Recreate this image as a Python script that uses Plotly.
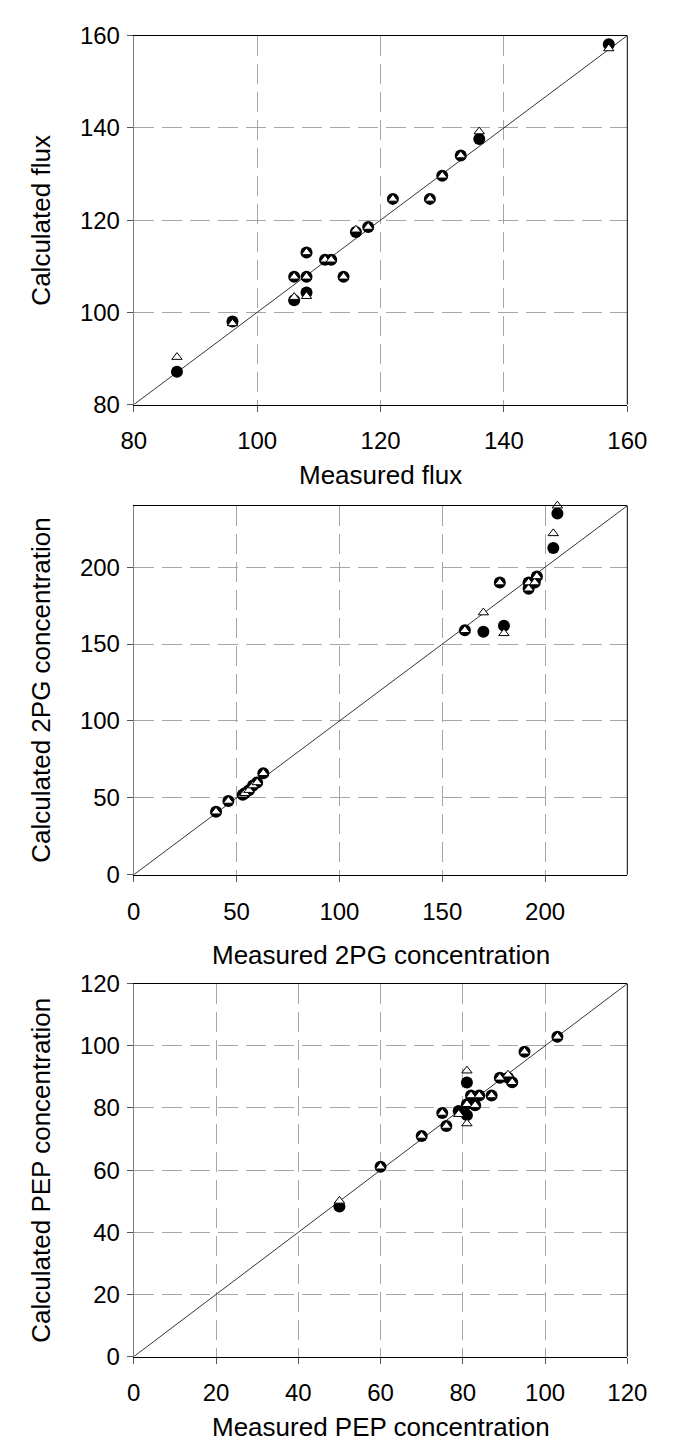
import plotly.graph_objects as go

# ---- data -------------------------------------------------------------
flux_measured = [87, 96, 106, 106, 108, 108, 108, 111, 112, 114, 116, 118, 122, 128, 130, 133, 136, 157]
flux_calc_a = [87.1, 98.0, 102.6, 107.7, 113.0, 107.7, 104.3, 111.4, 111.4, 107.7, 117.4, 118.5, 124.6, 124.6, 129.6, 134.0, 137.6, 158.1]
flux_calc_b = [90.3, 97.6, 103.3, 107.7, 113.0, 107.7, 103.5, 111.4, 111.4, 107.7, 117.9, 118.5, 124.6, 124.6, 129.6, 134.0, 139.2, 157.2]

pg2_measured = [40, 46, 53, 54, 56, 58, 60, 63, 161, 170, 178, 180, 192, 192, 195, 196, 204, 206]
pg2_calc_a = [41, 48, 52, 53, 55, 58, 60, 66, 159, 158, 190, 162, 186, 190, 190, 194, 212.5, 235]
pg2_calc_b = [41, 48, 52, 53, 55, 58, 60, 66, 159, 170.5, 190, 157, 186, 190, 190, 194, 222, 240]

pep_measured = [50, 60, 70, 75, 76, 79, 81, 81, 81, 82, 83, 84, 87, 89, 91, 92, 95, 103]
pep_calc_a = [48.3, 61.1, 71.0, 78.4, 74.2, 79.0, 88.2, 77.7, 81.2, 84.0, 80.9, 84.0, 84.0, 89.7, 89.7, 88.3, 98.1, 102.9]
pep_calc_b = [50.1, 61.1, 71.0, 78.4, 74.2, 78.0, 92.0, 75.0, 81.2, 84.0, 80.9, 84.0, 84.0, 89.7, 90.7, 88.3, 98.1, 102.9]

flux_range = [80, 160]
pg2_range = [0, 240]
pep_range = [0, 120]
flux_ticks = [80, 100, 120, 140, 160]
pg2_ticks = [0, 50, 100, 150, 200]
pep_ticks = [0, 20, 40, 60, 80, 100, 120]

x_titles = ["Measured flux", "Measured 2PG concentration", "Measured PEP concentration"]
y_titles = ["Calculated flux", "Calculated 2PG concentration", "Calculated PEP concentration"]

# ---- layout geometry (pixels) ----------------------------------------
W, H = 673, 1455
LEFT, RIGHT = 127, 646
PANEL_TOP = [22, 501, 988]
PANEL_BOTTOM = [398, 877, 1368]
XLABEL_Y = [470, 959, 1440]
YLABEL_X = 30

FONT = "Liberation Sans, Arial, sans-serif"
FS_TITLE = 26
FS_TICK = 24

def px_x(p):
    return p / W

def px_y(p):
    return 1 - p / H

panels = [
    (flux_measured, flux_calc_a, flux_calc_b, flux_range, flux_ticks),
    (pg2_measured, pg2_calc_a, pg2_calc_b, pg2_range, pg2_ticks),
    (pep_measured, pep_calc_a, pep_calc_b, pep_range, pep_ticks),
]

fig = go.Figure()
layout = dict(
    width=W, height=H,
    margin=dict(l=0, r=0, t=0, b=0),
    paper_bgcolor="white", plot_bgcolor="white",
    showlegend=False,
    font=dict(family=FONT, size=FS_TICK, color="black"),
    annotations=[], shapes=[],
)

for i, (meas, ca, cb, rng, ticks) in enumerate(panels):
    n = "" if i == 0 else str(i + 1)
    xa, ya = "x" + n, "y" + n
    # identity line
    fig.add_trace(go.Scatter(x=rng, y=rng, mode="lines", xaxis=xa, yaxis=ya,
                             line=dict(color="black", width=0.8), hoverinfo="skip"))
    fig.add_trace(go.Scatter(x=meas, y=ca, mode="markers", xaxis=xa, yaxis=ya, cliponaxis=False,
                             marker=dict(symbol="circle", size=12, color="black",
                                         line=dict(width=0))))
    fig.add_trace(go.Scatter(x=meas, y=cb, mode="markers", xaxis=xa, yaxis=ya, cliponaxis=False,
                             marker=dict(symbol="triangle-up", size=9, color="white",
                                         line=dict(color="black", width=1))))
    axis_common = dict(
        range=rng, tickvals=ticks, ticks="outside", ticklen=6, tickwidth=1,
        tickcolor="#555555", showgrid=True, gridcolor="#a6a6a6", gridwidth=1,
        griddash="20px,8px", zeroline=False, showline=True,
        tickfont=dict(family=FONT, size=FS_TICK, color="black"),
    )
    layout["xaxis" + n] = dict(axis_common, domain=[px_x(LEFT), px_x(RIGHT)], anchor=ya,
                               linecolor="black", mirror=True, ticklabelstandoff=9)
    layout["yaxis" + n] = dict(axis_common, domain=[px_y(PANEL_BOTTOM[i]), px_y(PANEL_TOP[i])],
                               anchor=xa, linecolor="#808080", ticklabelstandoff=2)
    # right edge of the frame
    layout["shapes"].append(dict(type="line", xref="paper", yref="paper",
                                 x0=px_x(RIGHT), x1=px_x(RIGHT),
                                 y0=px_y(PANEL_BOTTOM[i]), y1=px_y(PANEL_TOP[i]),
                                 line=dict(color="black", width=1)))
    layout["annotations"].append(dict(text=x_titles[i], xref="paper", yref="paper",
                                      x=px_x((LEFT + RIGHT) / 2), y=px_y(XLABEL_Y[i]),
                                      showarrow=False, xanchor="center", yanchor="middle",
                                      font=dict(family=FONT, size=FS_TITLE, color="black")))
    layout["annotations"].append(dict(text=y_titles[i], xref="paper", yref="paper",
                                      x=px_x(YLABEL_X), y=px_y((PANEL_TOP[i] + PANEL_BOTTOM[i]) / 2),
                                      textangle=-90, showarrow=False, xanchor="center", yanchor="middle",
                                      font=dict(family=FONT, size=FS_TITLE, color="black")))

fig.update_layout(**layout)
fig.write_html("out.html")
